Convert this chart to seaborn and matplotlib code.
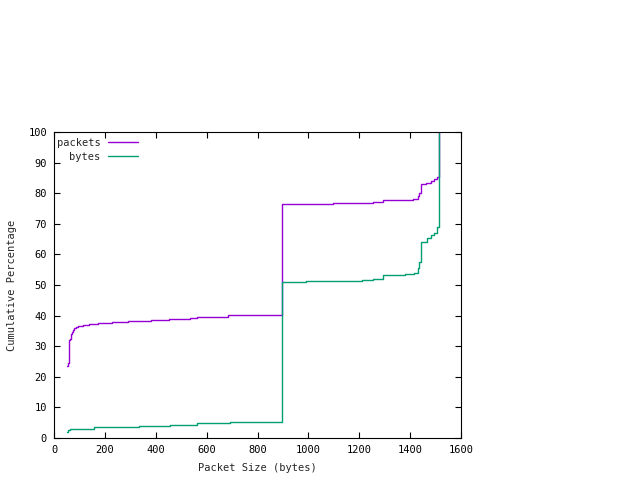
import matplotlib
matplotlib.use("Agg")
import matplotlib.pyplot as plt
import seaborn as sns
import pandas as pd

packets_x = [52, 56, 60, 64, 67, 69, 73, 79, 85, 96, 115, 139, 174, 227, 292, 380,
             452, 535, 563, 685, 898, 1095, 1253, 1293, 1412, 1432, 1436, 1444,
             1464, 1482, 1495, 1505, 1514]
packets_y = [23.5, 24.5, 32.0, 32.3, 34.0, 34.6, 35.3, 35.8, 36.2, 36.6, 36.9, 37.3,
             37.5, 37.8, 38.2, 38.6, 38.9, 39.1, 39.6, 40.1, 76.5, 76.8, 77.1, 77.7,
             78.1, 79.1, 80.0, 83.0, 83.4, 84.0, 84.5, 85.2, 100.0]

bytes_x = [52, 56, 63, 158, 335, 456, 561, 692, 898, 990, 1212, 1255, 1294, 1381,
           1415, 1432, 1436, 1444, 1465, 1482, 1495, 1507, 1514]
bytes_y = [1.9, 2.7, 3.1, 3.5, 3.8, 4.1, 4.8, 5.2, 50.9, 51.2, 51.5, 52.0, 53.3, 53.6,
           54.0, 55.4, 57.6, 64.0, 65.3, 66.3, 67.1, 69.1, 100.0]

x_ticks = list(range(0, 1601, 200))
y_ticks = list(range(0, 101, 10))

sns.set_style("ticks")
plt.rcParams['font.family'] = ['DejaVu Sans Mono']
plt.rcParams['font.size'] = 7.5

fig = plt.figure(figsize=(6.4, 4.8), dpi=100)
ax = fig.add_axes([54/640, 1 - 438/480, (461 - 54)/640, (438 - 132)/480])

df_p = pd.DataFrame({"x": packets_x, "y": packets_y})
df_b = pd.DataFrame({"x": bytes_x, "y": bytes_y})
sns.lineplot(data=df_p, x="x", y="y", color="#9400D3", lw=1, drawstyle="steps-post",
             label="packets", ax=ax, estimator=None)
sns.lineplot(data=df_b, x="x", y="y", color="#009E73", lw=1, drawstyle="steps-post",
             label="bytes", ax=ax, estimator=None)

ax.set_xlim(0, 1600)
ax.set_ylim(0, 100)
ax.set_xticks(x_ticks)
ax.set_yticks(y_ticks)
ax.tick_params(direction="in", length=4.5, width=0.8, top=True, right=True,
               labelsize=7.5, colors="black", pad=5)
for s in ax.spines.values():
    s.set_visible(True)
    s.set_color("black")
    s.set_linewidth(0.8)
ax.set_xlabel("Packet Size (bytes)", fontsize=7.5, labelpad=6)
ax.set_ylabel("Cumulative Percentage", fontsize=7.5, labelpad=8)

ax.legend(loc="upper left", bbox_to_anchor=(3/407, 1 - 6/306), borderaxespad=0,
          borderpad=0, frameon=False, markerfirst=False, handlelength=2.9,
          handletextpad=0.7, labelspacing=0.35, fontsize=7.5)

fig.savefig("out.png", dpi=100)
